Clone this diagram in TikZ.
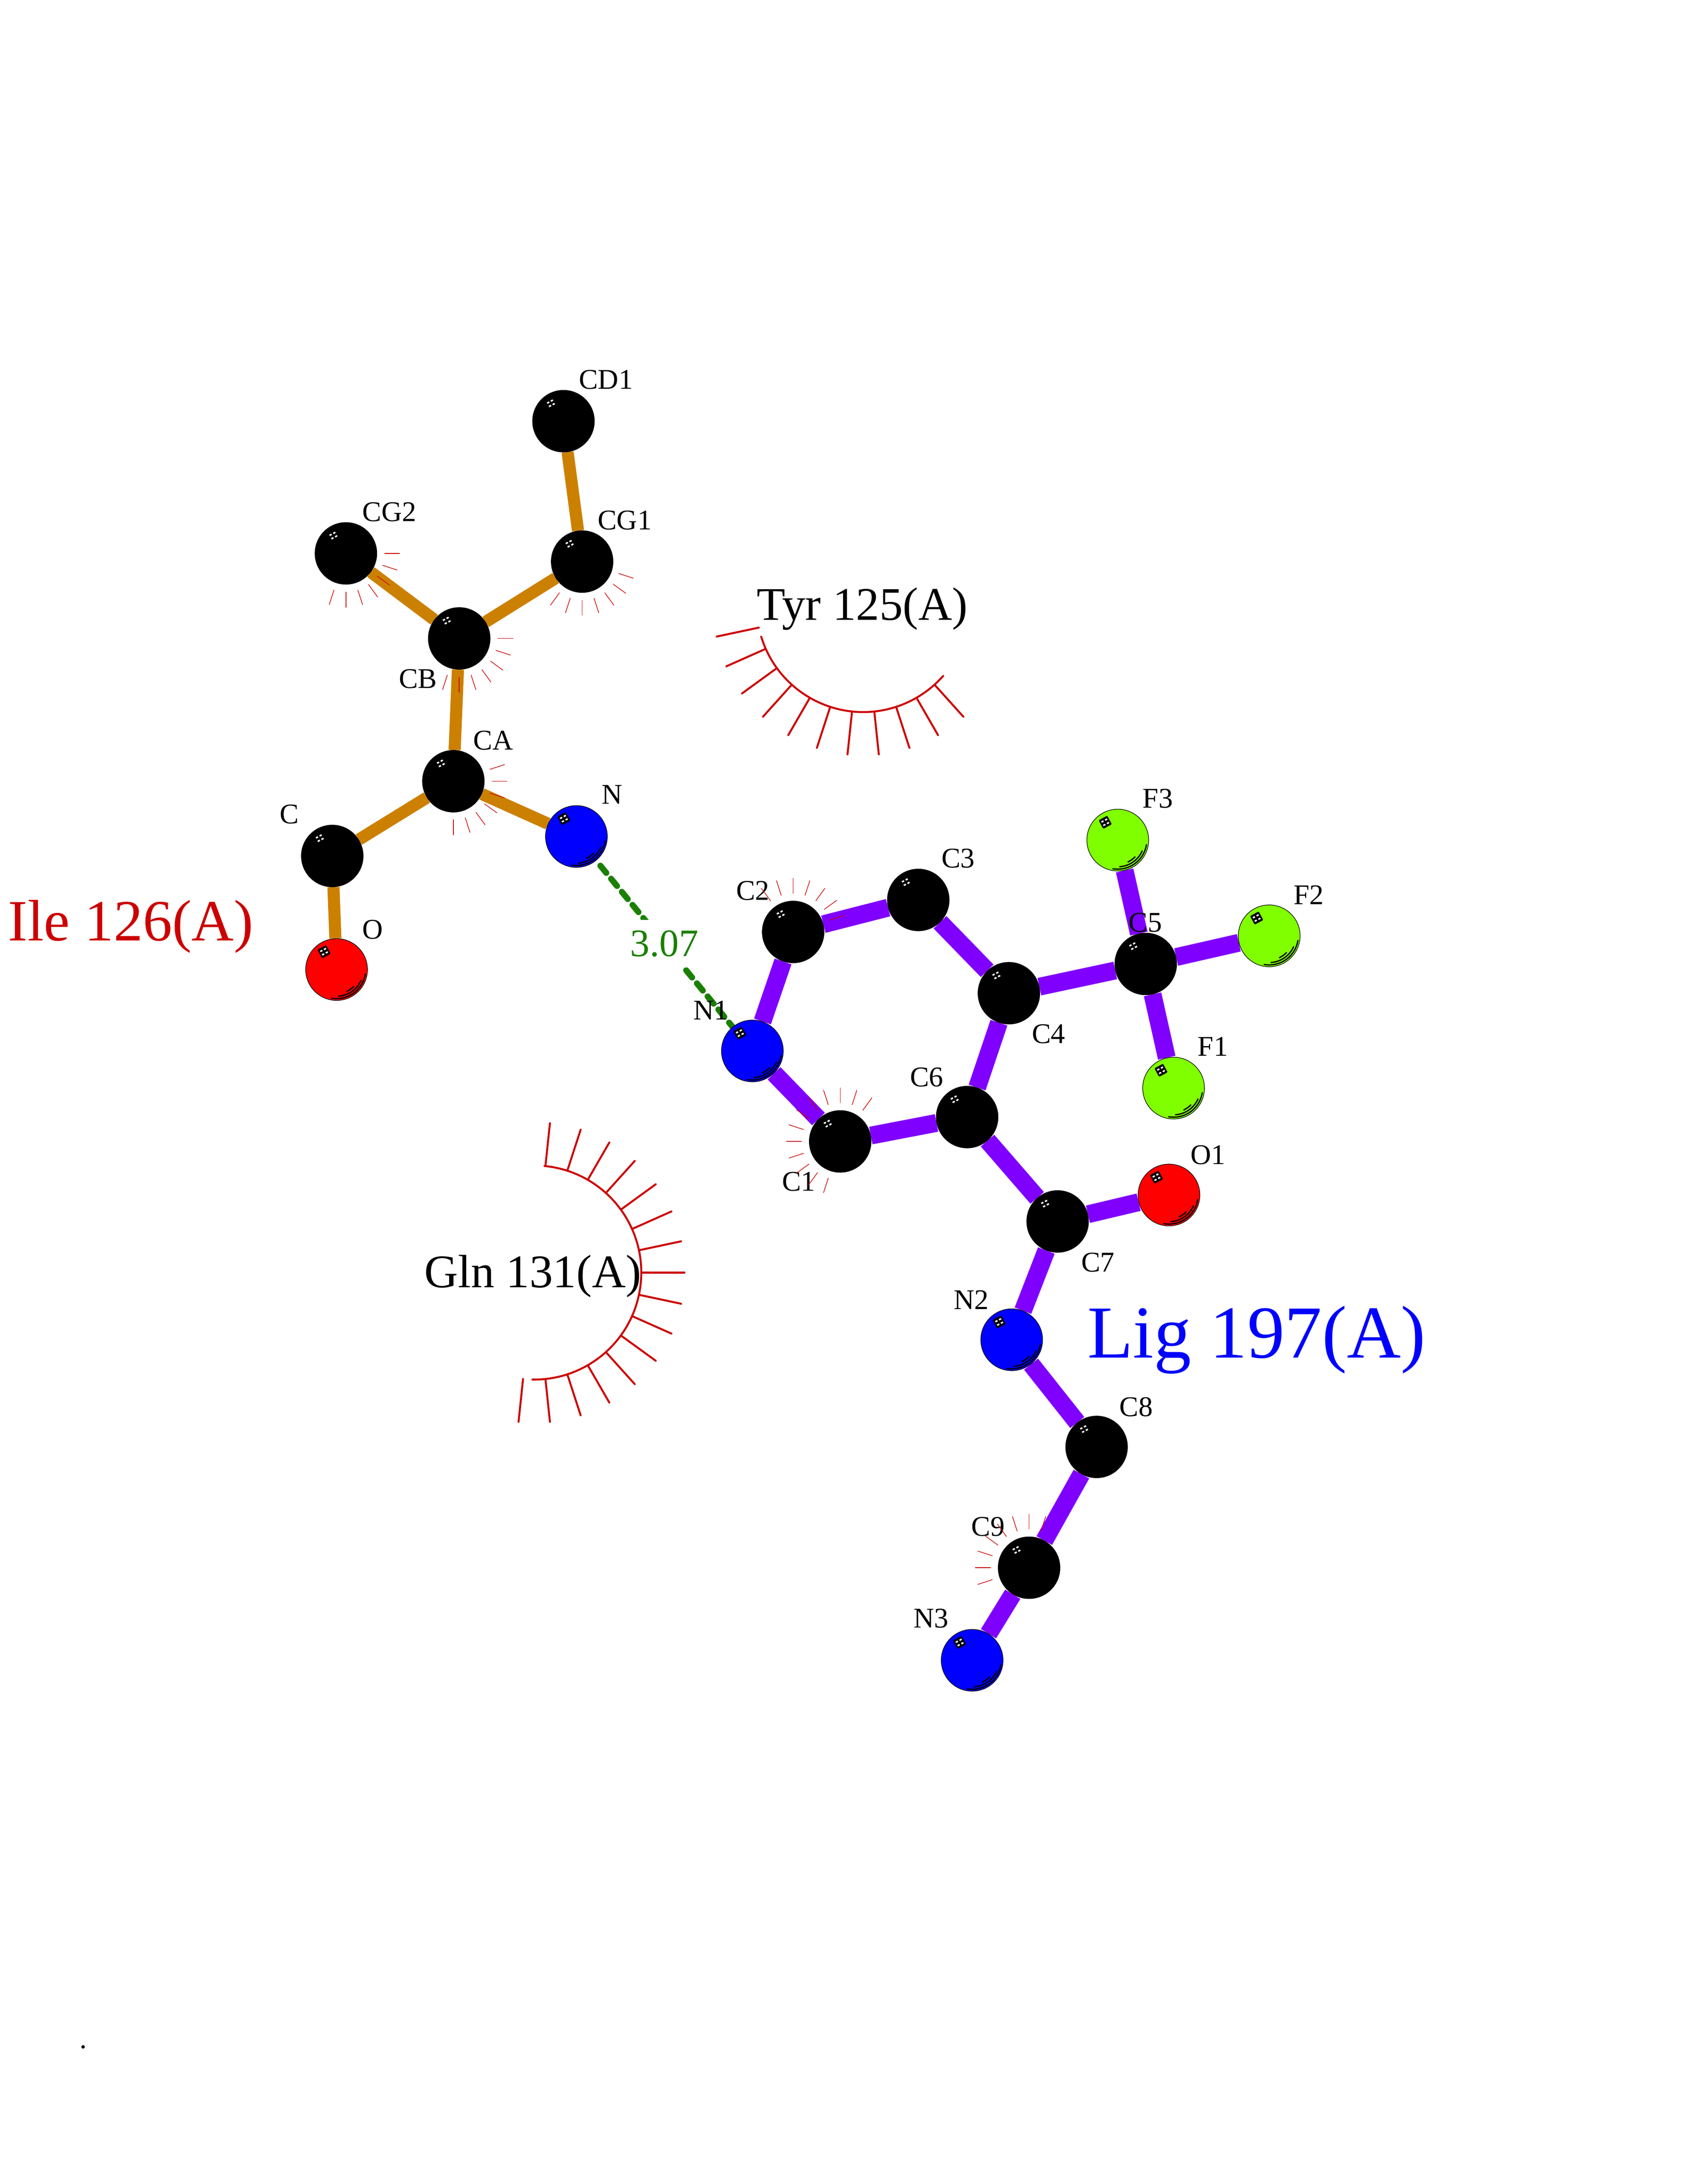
\documentclass[tikz,border=0pt]{standalone}
\usepackage{fontspec}
\setmainfont{Liberation Serif}
\usetikzlibrary{backgrounds}

\definecolor{ligpurple}{RGB}{128,0,255}
\definecolor{resorange}{RGB}{204,128,0}
\definecolor{hbgreen}{RGB}{26,128,0}
\definecolor{hydrored}{RGB}{204,0,0}
\definecolor{flime}{RGB}{128,255,0}

\tikzset{
  ball/.style={circle,draw=black,line width=.4pt,minimum size=44.4pt,inner sep=0pt},
  ballC/.style={ball,fill=black},
  ballN/.style={ball,fill=blue},
  ballO/.style={ball,fill=red},
  ballF/.style={ball,fill=flime},
  ligbond/.style={ligpurple,line width=12.8pt},
  resbond/.style={resorange,line width=8.7pt},
  hbond/.style={hbgreen,line width=4.3pt,line cap=round,dash pattern=on 6.7pt off 5.45pt,dash phase=7.4pt},
  hbtext/.style={hbgreen,fill=white,inner xsep=0pt,inner ysep=7.5pt,font=\fontsize{28}{30}\selectfont},
  atomlabel/.style={inner sep=0pt,yshift=.7pt,font=\fontsize{20.5}{24}\selectfont},
  reslabel/.style={anchor=base,inner sep=0pt,font=\fontsize{33.6}{36}\selectfont},
  hydroarc/.style={hydrored,line width=1.4pt,line cap=round},
  hydrotick/.style={hydrored,line width=.45pt},
  gloss/.style={black,line width=.9pt,line cap=round}
}

% window reflection on the upper left of a ball
\newcommand{\ballshine}[1]{%
  \begin{scope}[shift={(#1.center)},shift={(-9,-12.8)},rotate=28]
    \fill[black,rounded corners=.6pt] (-3.5,-3.5) rectangle (3.5,3.5);
    \foreach \sx/\sy in {-1.5/-1.4,1.5/-1.4,-1.5/1.4,1.5/1.4}
      \fill[white] (\sx-.85,\sy-.55) rectangle (\sx+.85,\sy+.55);
  \end{scope}}
% three rims on the lower right of a ball
\newcommand{\ballrim}[1]{%
  \draw[gloss] (#1.center) ++(-9:20.9pt) arc[start angle=-9,end angle=-100,radius=20.9pt];
  \draw[gloss] (#1.center) ++(-24:19.2pt) arc[start angle=-24,end angle=-86,radius=19.2pt];
  \draw[gloss] (#1.center) ++(-44:17.3pt) arc[start angle=-44,end angle=-65,radius=17.3pt];}

\begin{document}
\begin{tikzpicture}[x=1pt,y=-1pt]
 \useasboundingbox (-.8,-.6) rectangle (1211.8,1568.6);

 % Ile 126 atoms
 \node[ballC] (CD1) at (404,302) {};
 \node[ballC] (CG2) at (247.7,397) {};
 \node[ballC] (CG1) at (417.4,402.9) {};
 \node[ballC] (CB) at (329.1,458.1) {};
 \node[ballC] (CA) at (324.9,560.7) {};
 \node[ballC] (C) at (237.9,614.4) {};
 \node[ballO] (O) at (241,696) {};
 \node[ballN] (N) at (413.3,600.4) {};

 % Lig 197 atoms
 \node[ballN] (N1) at (539.7,754.5) {};
 \node[ballC] (C2) at (569,669) {};
 \node[ballC] (C3) at (658.9,646) {};
 \node[ballC] (C4) at (724,713) {};
 \node[ballC] (C5) at (822.3,692) {};
 \node[ballF] (F3) at (802.2,603) {};
 \node[ballF] (F2) at (911,671.8) {};
 \node[ballF] (F1) at (842.3,781.2) {};
 \node[ballC] (C6) at (694,802) {};
 \node[ballC] (C1) at (602.8,819.5) {};
 \node[ballC] (C7) at (759,877) {};
 \node[ballO] (O1) at (839,858) {};
 \node[ballN] (N2) at (726,962) {};
 \node[ballC] (C8) at (787,1039) {};
 \node[ballC] (C9) at (738.5,1125.8) {};
 \node[ballN] (N3) at (697.6,1192.3) {};

 \begin{scope}[on background layer]
  \draw[resbond] (CD1) -- (CG1);
  \draw[resbond] (CG1) -- (CB);
  \draw[resbond] (CG2) -- (CB);
  \draw[resbond] (CB) -- (CA);
  \draw[resbond] (CA) -- (C);
  \draw[resbond] (CA) -- (N);
  \draw[resbond] (C) -- (O);

  \draw[ligbond] (N1) -- (C2);
  \draw[ligbond] (C2) -- (C3);
  \draw[ligbond] (C3) -- (C4);
  \draw[ligbond] (C4) -- (C5);
  \draw[ligbond] (C5) -- (F3);
  \draw[ligbond] (C5) -- (F2);
  \draw[ligbond] (C5) -- (F1);
  \draw[ligbond] (C4) -- (C6);
  \draw[ligbond] (C6) -- (C1);
  \draw[ligbond] (C1) -- (N1);
  \draw[ligbond] (C6) -- (C7);
  \draw[ligbond] (C7) -- (O1);
  \draw[ligbond] (C7) -- (N2);
  \draw[ligbond] (N2) -- (C8);
  \draw[ligbond] (C8) -- (C9);
  \draw[ligbond] (C9) -- (N3);

  \draw[hbond] (N) -- node[hbtext] (hbdist) {3.07} (N1); % hydrogen bond
 \end{scope}

 \foreach \ball in {CD1,CG2,CG1,CB,CA,C,O,N,N1,C2,C3,C4,C5,F3,F2,F1,C6,C1,C7,O1,N2,C8,C9,N3}
  {\ballshine{\ball}}
 \foreach \ball in {O,N,N1,F3,F2,F1,O1,N2,N3}
  {\ballrim{\ball}}

 \node[atomlabel] (lCD1) at (434.5,273) {CD1};
 \node[atomlabel] (lCG2) at (279,368) {CG2};
 \node[atomlabel] (lCG1) at (448,374) {CG1};
 \node[atomlabel] (lCB) at (299.5,488) {CB};
 \node[atomlabel] (lCA) at (353.5,532) {CA};
 \node[atomlabel] (lC) at (207,585) {C};
 \node[atomlabel] (lO) at (267,668) {O};
 \node[atomlabel] (lN) at (439,571) {N};
 \node[atomlabel] (lN1) at (510,726) {N1};
 \node[atomlabel] (lC2) at (540,640) {C2};
 \node[atomlabel] (lC3) at (687.5,617) {C3};
 \node[atomlabel] (lC4) at (752.5,743) {C4};
 \node[atomlabel] (lC5) at (822,663) {C5};
 \node[atomlabel] (lF3) at (831,574) {F3};
 \node[atomlabel] (lF2) at (939.5,643) {F2};
 \node[atomlabel] (lF1) at (870.5,752) {F1};
 \node[atomlabel] (lC6) at (665,774) {C6};
 \node[atomlabel] (lC1) at (573,849) {C1};
 \node[atomlabel] (lC7) at (788,907) {C7};
 \node[atomlabel] (lO1) at (867,830) {O1};
 \node[atomlabel] (lN2) at (697,934) {N2};
 \node[atomlabel] (lC8) at (815.5,1011) {C8};
 \node[atomlabel] (lC9) at (709,1097) {C9};
 \node[atomlabel] (lN3) at (668,1163) {N3};

 \node[reslabel,hydrored,font=\fontsize{42}{46}\selectfont] (ile) at (93.2,675.4) {Ile 126(A)};
 \node[reslabel,blue,font=\fontsize{53.7}{58}\selectfont] (lig) at (902,975) {Lig 197(A)};
 \node[reslabel] (tyr) at (618.7,445) {Tyr 125(A)};
 \node[reslabel] (gln) at (382,924.5) {Gln 131(A)};
 \node[inner sep=0pt,anchor=base,font=\fontsize{20.5}{24}\selectfont] (dot) at (59,1471.2) {.};

 % contacts of single atoms
 \foreach \ball/\angles in {%
   CG2/{0,-18,-36,-54,-72,-90,-108},
   CG1/{-18,-36,-54,-72,-90,-108,-126},
   CB/{0,-18,-36,-54,-72,-90,-108},
   CA/{18,0,-18,-36,-54,-72,-90},
   C2/{18,36,54,72,90,108,126},
   C1/{54,72,90,108,126,144,162,180,198,216,234,252},
   C9/{72,90,108,126,144,162,180,198}}
  \foreach \a in \angles
   \draw[hydrotick] (\ball.center) ++(\a:27.6pt) -- ++(\a:11.2pt);

 % Tyr 125
 \coordinate (tyrc) at (619.3,434.4);
 \draw[hydroarc] (tyrc) ++(-163:76.6pt) arc[start angle=-163,end angle=-41.4,radius=76.6pt];
 \foreach \a in {-168,-156,-144,-132,-120,-108,-96,-84,-72,-60,-48}
  \draw[hydroarc] (tyrc) ++(\a:76.6pt) -- ++(\a:31pt);

 % Gln 131
 \coordinate (glnc) at (383,913.7);
 \draw[hydroarc] (glnc) ++(84.5:76.9pt) arc[start angle=84.5,end angle=-91,radius=76.9pt];
 \foreach \a in {84,72,60,48,36,24,12,0,-12,-24,-36,-48,-60,-72,-84,-96}
  \draw[hydroarc] (glnc) ++(\a:76.9pt) -- ++(\a:31pt);

\end{tikzpicture}
\end{document}
